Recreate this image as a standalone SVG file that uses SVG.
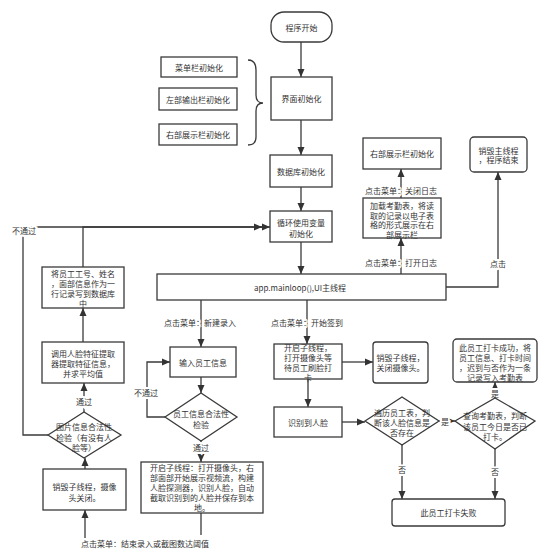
<svg xmlns="http://www.w3.org/2000/svg" width="550" height="558" viewBox="0 0 550 558">
<style>
.b{fill:#fff;stroke:#3a3a3a;stroke-width:1.3}
.t{font-family:"Noto Sans CJK SC","Noto Sans",sans-serif;font-size:8px;fill:#333;text-anchor:middle;dominant-baseline:central}
.l{font-family:"Noto Sans CJK SC","Noto Sans",sans-serif;font-size:8px;fill:#333;text-anchor:middle;dominant-baseline:central;stroke:#fff;stroke-width:4;paint-order:stroke}
.c{fill:none;stroke:#3a3a3a;stroke-width:1.3}
.a{marker-end:url(#ah)}
</style>
<defs>
<marker id="ah" markerUnits="userSpaceOnUse" markerWidth="8" markerHeight="8" refX="8" refY="4" orient="auto">
<path d="M0,0.5 L8,4 L0,7.5 z" fill="#333"/>
</marker>
</defs>
<rect width="550" height="558" fill="#fff"/>

<g id="connectors">
<path class="c a" d="M301,42 V77"/>
<path class="c a" d="M301,120 V155"/>
<path class="c a" d="M301,187 V211"/>
<path class="c a" d="M301,242 V274"/>
<path class="c a" d="M401,274 V238"/>
<path class="c a" d="M401,198 V169"/>
<path class="c a" d="M446,287 H498 V172"/>
<path class="c a" d="M201,300 V347"/>
<path class="c a" d="M201,377 V393"/>
<path class="c a" d="M165,417 H147 V362 H170"/>
<path class="c a" d="M201,441 V462"/>
<path class="c" d="M201,513 V535"/>
<path class="c a" d="M85,538 V510"/>
<path class="c a" d="M85,469 V458"/>
<path class="c a" d="M84,412 V383"/>
<path class="c a" d="M83,342 V308"/>
<path class="c a" d="M83,267 V227 H270"/>
<path class="c a" d="M48,435 H23 V227 H262"/>
<path class="c a" d="M307,300 V344"/>
<path class="c a" d="M342,362 H373"/>
<path class="c a" d="M308,379 V407"/>
<path class="c a" d="M342,422 H365"/>
<path class="c a" d="M439,421 H455"/>
<path class="c a" d="M495,398 V382"/>
<path class="c a" d="M402,445 V499"/>
<path class="c a" d="M495,449 V499"/>
<path class="c" d="M248,60 Q256,60 256,70 V95 Q256,103 263,103 Q256,103 256,111 V137 Q256,145 248,145"/>
<text class="l" x="401" y="262">点击菜单：打开日志</text>
<text class="l" x="401" y="190">点击菜单：关闭日志</text>
<text class="l" x="498" y="263">点击</text>
<text class="l" x="200" y="322">点击菜单：新建录入</text>
<text class="l" x="307" y="322">点击菜单：开始签到</text>
<text class="l" x="146" y="392">不通过</text>
<text class="l" x="201" y="447">通过</text>
<text class="l" x="84" y="401">通过</text>
<text class="l" x="24" y="230">不通过</text>
<text class="l" x="145" y="543">点击菜单：结束录入或截图数达阈值</text>
<text class="l" x="445" y="421">是</text>
<text class="l" x="495" y="393">是</text>
<text class="l" x="402" y="469">否</text>
<text class="l" x="495" y="471">否</text>
</g>

<g id="start"><rect class="b" x="271" y="12" width="61" height="30" rx="13"/><text class="t" x="301.5" y="27">程序开始</text></g>
<g id="ui"><rect class="b" x="271" y="77" width="61" height="43"/><text class="t" x="301.5" y="98.5">界面初始化</text></g>
<g id="menu"><rect class="b" x="161" y="57" width="76" height="20"/><text class="t" x="199" y="67">菜单栏初始化</text></g>
<g id="leftout"><rect class="b" x="159" y="88" width="78" height="22"/><text class="t" x="198" y="99">左部输出栏初始化</text></g>
<g id="rightdisp"><rect class="b" x="159" y="124" width="78" height="21"/><text class="t" x="198" y="134.5">右部展示栏初始化</text></g>
<g id="db"><rect class="b" x="270" y="155" width="62" height="32"/><text class="t" x="301" y="171">数据库初始化</text></g>
<g id="loopvar"><rect class="b" x="270" y="211" width="62" height="31"/><text class="t" x="301" y="222">循环使用变量</text><text class="t" x="301" y="233">初始化</text></g>
<g id="mainloop"><rect class="b" x="157" y="274" width="289" height="26"/><text class="t" x="300" y="287">app.mainloop(),UI主线程</text></g>
<g id="rightinit2"><rect class="b" x="363" y="138" width="78" height="31"/><text class="t" x="402" y="153.5">右部展示栏初始化</text></g>
<g id="loadatt"><rect class="b" x="363" y="198" width="78" height="40"/><text class="t" x="402" y="205">加载考勤表，将读</text><text class="t" x="402" y="215">取的记录以电子表</text><text class="t" x="402" y="224.5">格的形式展示在右</text><text class="t" x="402" y="234">部展示栏</text></g>
<g id="destroymain"><rect class="b" x="470" y="137" width="57" height="35" rx="4"/><text class="t" x="498.5" y="150">销毁主线程</text><text class="t" x="498.5" y="159.5">，程序结束</text></g>
<g id="saverecord"><rect class="b" x="42" y="267" width="82" height="41"/><text class="t" x="83" y="273">将员工工号、姓名</text><text class="t" x="83" y="283">，面部信息作为一</text><text class="t" x="83" y="293">行记录写到数据库</text><text class="t" x="83" y="303">中</text></g>
<g id="extract"><rect class="b" x="42" y="342" width="82" height="41"/><text class="t" x="83" y="353">调用人脸特征提取</text><text class="t" x="83" y="363">器提取特征信息，</text><text class="t" x="83" y="373">并求平均值</text></g>
<g id="imgcheck"><path class="b" d="M48,435 L84,412 L121,435 L84,458 Z"/><text class="t" x="84" y="426">图片信息合法性</text><text class="t" x="84" y="437">检验（有没有人</text><text class="t" x="84" y="447">脸等）</text></g>
<g id="destroycam"><rect class="b" x="43" y="469" width="83" height="41"/><text class="t" x="84.5" y="486">销毁子线程，摄像</text><text class="t" x="84.5" y="497">头关闭。</text></g>
<g id="inputinfo"><rect class="b" x="170" y="347" width="66" height="30"/><text class="t" x="203" y="362">输入员工信息</text></g>
<g id="infocheck"><path class="b" d="M165,417 L201,393 L237,417 L201,441 Z"/><text class="t" x="201" y="413">员工信息合法性</text><text class="t" x="201" y="424">检验</text></g>
<g id="startthread"><rect class="b" x="141" y="462" width="122" height="51"/><text class="t" x="202" y="467">开启子线程：打开摄像头，右</text><text class="t" x="202" y="477">部面部开始展示视频流，构建</text><text class="t" x="202" y="487">人脸探测器，识别人脸，自动</text><text class="t" x="202" y="497">截取识别到的人脸并保存到本</text><text class="t" x="202" y="507">地。</text></g>
<g id="signthread"><rect class="b" x="274" y="344" width="68" height="35"/><text class="t" x="308" y="347">开启子线程，</text><text class="t" x="308" y="357">打开摄像头等</text><text class="t" x="308" y="367">待员工刷脸打</text><text class="t" x="308" y="377">卡</text></g>
<g id="destroysub"><rect class="b" x="373" y="342" width="55" height="41" rx="3"/><text class="t" x="400.5" y="357">销毁子线程，</text><text class="t" x="400.5" y="367">关闭摄像头。</text></g>
<g id="recognize"><rect class="b" x="274" y="407" width="68" height="30"/><text class="t" x="308" y="422">识别到人脸</text></g>
<g id="traverse"><path class="b" d="M365,421 L402,397 L439,421 L402,445 Z"/><text class="t" x="402" y="412">遍历员工表，判</text><text class="t" x="402" y="422">断该人脸信息是</text><text class="t" x="402" y="432">否存在</text></g>
<g id="query"><path class="b" d="M455,421 L495,398 L535,421 L495,449 Z"/><text class="t" x="495" y="415">查询考勤表，判断</text><text class="t" x="495" y="426">该员工今日是否已</text><text class="t" x="495" y="436">打卡。</text></g>
<g id="success"><rect class="b" x="453" y="339" width="84" height="43" rx="4"/><text class="t" x="495" y="347">此员工打卡成功，将</text><text class="t" x="495" y="357">员工信息、打卡时间</text><text class="t" x="495" y="367.5">，迟到与否作为一条</text><text class="t" x="495" y="377.5">记录写入考勤表</text></g>
<g id="fail"><rect class="b" x="392" y="499" width="113" height="27" rx="3"/><text class="t" x="448.5" y="512.5">此员工打卡失败</text></g>
</svg>
